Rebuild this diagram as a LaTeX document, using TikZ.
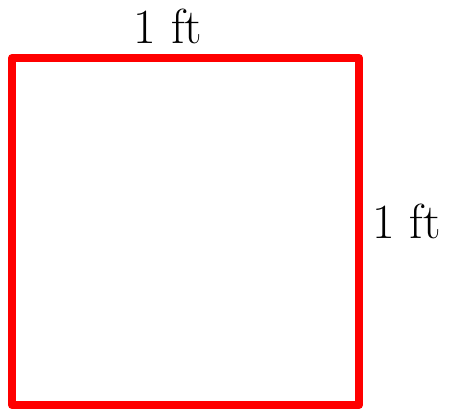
\documentclass[tikz,border=0pt]{standalone}
\usetikzlibrary{positioning}
\begin{document}
\begin{tikzpicture}[
    x=0.02cm,y=-0.02cm,
    every node/.style={font=\fontsize{28}{34}\selectfont,inner sep=0pt}]
    \useasboundingbox (0,0) rectangle (451,410);
    \coordinate (sw) at (12,405);
    \coordinate (ne) at (359,58);

    \draw[red,line width=4.5pt,line join=round] (sw) rectangle (ne);

    \node[anchor=base] (toplabel) at (168,43) {1 ft};
    \node[anchor=base west] (sidelabel) at (372,238) {1 ft};
\end{tikzpicture}
\end{document}
